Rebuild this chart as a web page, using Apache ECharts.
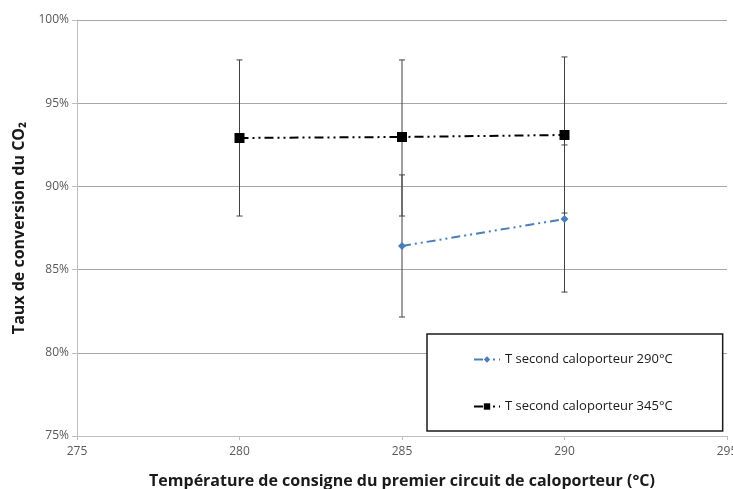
<!DOCTYPE html>
<html><head><meta charset="utf-8">
<script src="https://cdn.jsdelivr.net/npm/echarts@6/dist/echarts.min.js"></script>
<style>html,body{margin:0;padding:0;background:#fff}#c{width:733px;height:489px}</style>
</head><body><div id="c"></div>
<script>
var temps290 = [285, 290];
var vals290 = [86.42, 88.04];
var low290 = [82.15, 83.65];
var high290 = [90.69, 92.49];

var temps345 = [280, 285, 290];
var vals345 = [92.91, 92.97, 93.09];
var low345 = [88.22, 88.22, 88.4];
var high345 = [97.6, 97.6, 97.78];

var xTicks = [275, 280, 285, 290, 295];
var yTicks = [75, 80, 85, 90, 95, 100];

var name290 = 'T second caloporteur 290°C';
var name345 = 'T second caloporteur 345°C';

function errData(t, lo, hi) { return t.map(function (x, i) { return [x, lo[i], hi[i]]; }); }
function renderErr(params, api) {
  var p1 = api.coord([api.value(0), api.value(1)]);
  var p2 = api.coord([api.value(0), api.value(2)]);
  var w = 3;
  var st = { stroke: '#404040', lineWidth: 1 };
  return { type: 'group', children: [
    { type: 'line', shape: { x1: p1[0], y1: p1[1], x2: p2[0], y2: p2[1] }, style: st },
    { type: 'line', shape: { x1: p1[0] - w, y1: p1[1], x2: p1[0] + w, y2: p1[1] }, style: st },
    { type: 'line', shape: { x1: p2[0] - w, y1: p2[1], x2: p2[0] + w, y2: p2[1] }, style: st }
  ]};
}

var chart = echarts.init(document.getElementById('c'));
var font = '"Open Sans", "Noto Sans", sans-serif';
chart.setOption({
  animation: false,
  textStyle: { fontFamily: font },
  grid: { left: 77, right: 6, top: 20, bottom: 53, containLabel: false, outerBoundsMode: 'none' },
  xAxis: {
    type: 'value', min: xTicks[0], max: xTicks[xTicks.length - 1], interval: 5,
    name: 'Température de consigne du premier circuit de caloporteur (°C)',
    nameLocation: 'middle', nameGap: 37,
    nameTextStyle: { fontSize: 16, fontWeight: 'bold', color: '#1a1a1a', fontFamily: font },
    axisLine: { lineStyle: { color: '#bfbfbf' } },
    axisTick: { show: true, length: 4, inside: false, lineStyle: { color: '#bfbfbf' } },
    axisLabel: { color: '#595959', fontSize: 12, margin: 10, fontFamily: font },
    splitLine: { show: false }
  },
  yAxis: {
    type: 'value', min: yTicks[0], max: yTicks[yTicks.length - 1], interval: 5,
    name: 'Taux de conversion du CO₂',
    nameLocation: 'middle', nameGap: 50,
    nameTextStyle: { fontSize: 16, fontWeight: 'bold', color: '#1a1a1a', fontFamily: font },
    axisLine: { show: true, lineStyle: { color: '#bfbfbf' } },
    axisTick: { show: true, length: 5, lineStyle: { color: '#bfbfbf' } },
    axisLabel: { color: '#595959', fontSize: 12, margin: 8, formatter: function (v) { return v + '%'; }, fontFamily: font },
    splitLine: { show: true, lineStyle: { color: '#a6a6a6', width: 1 } }
  },
  legend: {
    left: 427, top: 334,
    orient: 'vertical',
    backgroundColor: '#fff', borderColor: '#1a1a1a', borderWidth: 1.5,
    padding: [19, 50, 18, 46],
    itemGap: 34, itemWidth: 26, itemHeight: 8,
    textStyle: { fontSize: 13, color: '#1a1a1a', fontFamily: font },
    data: [name290, name345]
  },
  series: [
    { type: 'custom', name: 'err290', renderItem: renderErr, data: errData(temps290, low290, high290), z: 1, silent: true },
    { type: 'custom', name: 'err345', renderItem: renderErr, data: errData(temps345, low345, high345), z: 1, silent: true },
    {
      type: 'line', name: name290, data: temps290.map(function (t, i) { return [t, vals290[i]]; }),
      symbol: 'diamond', symbolSize: 8,
      itemStyle: { color: '#4a7ebb' },
      lineStyle: { color: '#4a7ebb', width: 2, type: [9, 4, 2, 4, 2, 4] }, z: 3
    },
    {
      type: 'line', name: name345, data: temps345.map(function (t, i) { return [t, vals345[i]]; }),
      symbol: 'rect', symbolSize: 10,
      itemStyle: { color: '#000' },
      lineStyle: { color: '#000', width: 2, type: [9, 4, 2, 4, 2, 4] }, z: 3
    }
  ]
});
</script></body></html>
